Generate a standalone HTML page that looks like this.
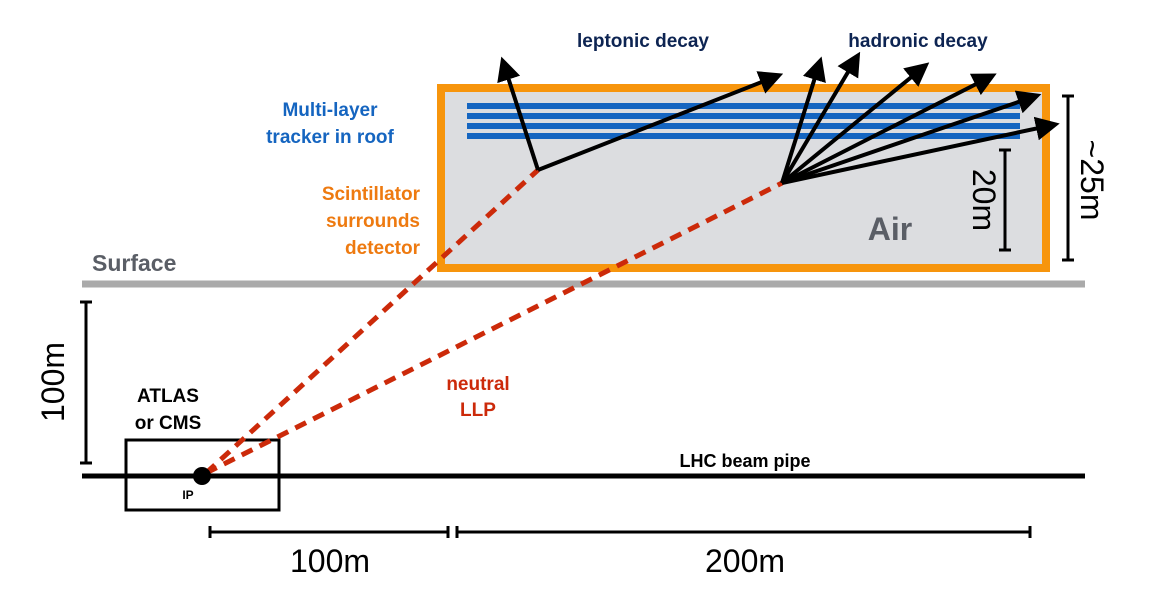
<!DOCTYPE html>
<html><head><meta charset="utf-8"><style>
body{margin:0;background:#fff}
svg{display:block;font-family:"Liberation Sans",sans-serif}
</style></head><body>
<svg width="1158" height="600" viewBox="0 0 1158 600">
<defs><marker id="ah" markerWidth="6" markerHeight="6" refX="3" refY="3" orient="auto" markerUnits="strokeWidth"><path d="M0,0 L6,3 L0,6 z" fill="#000"/></marker></defs>
<g>
<rect x="441" y="88" width="605" height="180" fill="#dcdde0" stroke="#f7950d" stroke-width="8"/>
</g>
<g fill="#1565c0">
<rect x="467" y="103" width="553" height="6"/><rect x="467" y="113" width="553" height="6"/>
<rect x="467" y="123" width="553" height="6"/><rect x="467" y="133" width="553" height="6"/>
</g>
<line x1="82" y1="284" x2="1085" y2="284" stroke="#aaa" stroke-width="7"/>
<line x1="82" y1="476" x2="1085" y2="476" stroke="#000" stroke-width="5"/>
<rect x="126" y="440" width="153" height="70" fill="none" stroke="#000" stroke-width="3"/>
<g stroke="#cc2a0a" stroke-width="5" stroke-dasharray="12,8" fill="none">
<line x1="206" y1="473" x2="538" y2="170"/><line x1="206" y1="473" x2="782" y2="183"/>
</g>
<circle cx="202" cy="476" r="9" fill="#000"/>
<g stroke="#000" stroke-width="4" marker-end="url(#ah)">
<line x1="538" y1="170" x2="505" y2="68"/><line x1="538" y1="170" x2="772" y2="78"/>
<line x1="782" y1="183" x2="818" y2="68"/><line x1="782" y1="183" x2="854" y2="62"/>
<line x1="782" y1="183" x2="920" y2="70"/><line x1="782" y1="183" x2="986" y2="79"/>
<line x1="782" y1="183" x2="1030" y2="98"/><line x1="782" y1="183" x2="1048" y2="126"/>
</g>
<g stroke="#000" stroke-width="3">
<line x1="1005" y1="150" x2="1005" y2="250"/><line x1="999" y1="150" x2="1011" y2="150"/><line x1="999" y1="250" x2="1011" y2="250"/>
<line x1="1068" y1="96" x2="1068" y2="260"/><line x1="1062" y1="96" x2="1074" y2="96"/><line x1="1062" y1="260" x2="1074" y2="260"/>
<line x1="86" y1="302" x2="86" y2="463"/><line x1="80" y1="302" x2="92" y2="302"/><line x1="80" y1="463" x2="92" y2="463"/>
<line x1="210" y1="532" x2="448" y2="532"/><line x1="210" y1="526" x2="210" y2="538"/><line x1="448" y1="526" x2="448" y2="538"/>
<line x1="457" y1="532" x2="1030" y2="532"/><line x1="457" y1="526" x2="457" y2="538"/><line x1="1030" y1="526" x2="1030" y2="538"/>
</g>
<g font-weight="bold">
<text x="643" y="47" font-size="19" fill="#0d2452" text-anchor="middle">leptonic decay</text>
<text x="918" y="47" font-size="19" fill="#0d2452" text-anchor="middle">hadronic decay</text>
<text font-size="19" fill="#1565c0" text-anchor="middle"><tspan x="330" y="116">Multi-layer</tspan><tspan x="330" y="143">tracker in roof</tspan></text>
<text font-size="19" fill="#ee7a10" text-anchor="end"><tspan x="420" y="200">Scintillator</tspan><tspan x="420" y="227">surrounds</tspan><tspan x="420" y="254">detector</tspan></text>
<text x="92" y="271" font-size="23" fill="#5a5e66">Surface</text>
<text x="890" y="240" font-size="32" fill="#5a5e66" text-anchor="middle">Air</text>
<text font-size="19" fill="#000" text-anchor="middle"><tspan x="168" y="402">ATLAS</tspan><tspan x="168" y="429">or CMS</tspan></text>
<text x="188" y="499" font-size="12" fill="#000" text-anchor="middle">IP</text>
<text font-size="19" fill="#cc2a0a" text-anchor="middle"><tspan x="478" y="390">neutral</tspan><tspan x="478" y="416">LLP</tspan></text>
<text x="745" y="467" font-size="18" fill="#000" text-anchor="middle">LHC beam pipe</text>
</g>
<g font-size="32" fill="#000">
<text x="330" y="572" text-anchor="middle">100m</text>
<text x="745" y="572" text-anchor="middle">200m</text>
<text transform="translate(64,382) rotate(-90)" text-anchor="middle">100m</text>
<text transform="translate(973,200) rotate(90)" text-anchor="middle">20m</text>
<text transform="translate(1081,180) rotate(90)" text-anchor="middle">~25m</text>
</g>
</svg>
</body></html>
